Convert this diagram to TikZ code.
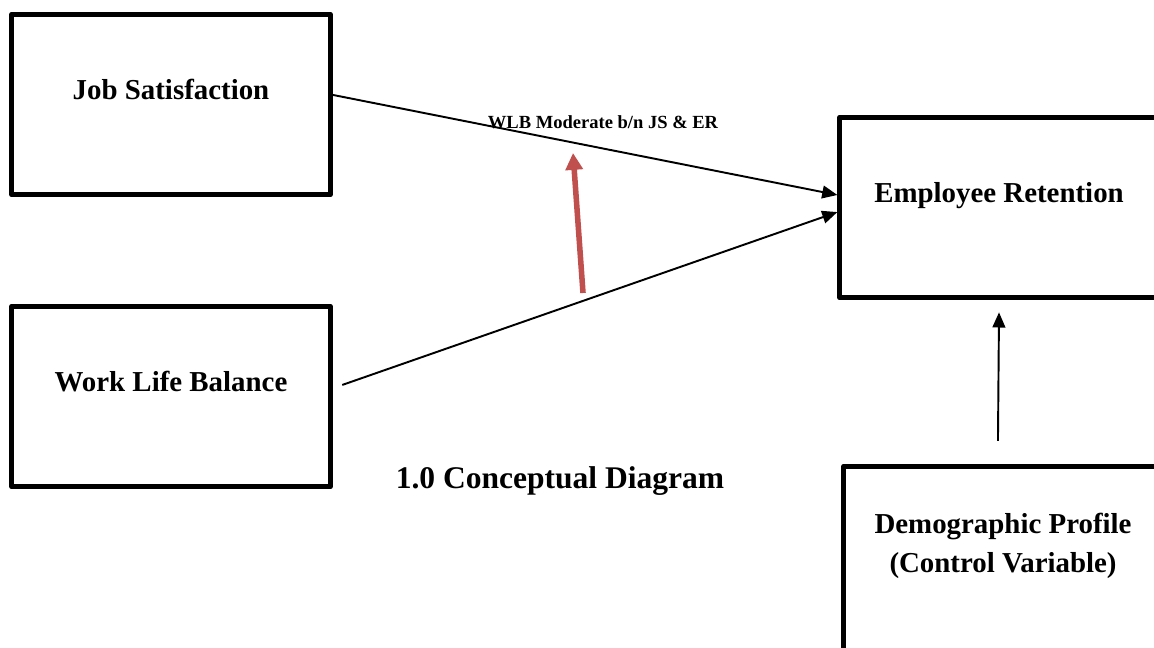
\documentclass[tikz,border=0pt]{standalone}
\usepackage{fontspec}
\setmainfont{Liberation Serif}
\usepackage{tikz}
\usetikzlibrary{arrows.meta,positioning}
\definecolor{modred}{RGB}{192,80,77}
\tikzset{
  varbox/.style={ draw, line width=2pt, line join=round, minimum width=4.65cm, minimum height=2.64cm, align=center, font=\fontsize{12}{16.2}\selectfont\bfseries, text height=8pt, text depth=12pt }
}
\tikzset{
  link/.style={ -{Triangle[length=6.3pt,width=5.3pt]}, line width=0.8pt }
}
\tikzset{
  modarrow/.style={ -{Triangle[length=7pt,width=7pt]}, line width=2.3pt, draw=modred }
}
\tikzset{
  modlabel/.style={ font=\fontsize{7.7}{9}\selectfont\bfseries }
}
\tikzset{
  caption/.style={ font=\fontsize{13.1}{15}\selectfont\bfseries }
}

\begin{document}
\begin{tikzpicture}[y=-0.0146cm, x=0.0146cm]
      \clip (0, 0) rectangle (1154, 647);
      \node[varbox] (js) at (171, 104.5) {Job Satisfaction};
      \node[varbox] (wlb) at (171, 396.5) {Work Life Balance};
      \node[varbox] (er) at (999, 207.5) {Employee Retention};
      \node[varbox, minimum height=3.25cm] (dp) at (1003, 577.5) {Demographic Profile\\(Control Variable)};

      \draw[link] ([yshift=4pt]js.east) -- ([yshift=5.2pt]er.west);
      \draw[link] ([xshift=4pt, yshift=4.8pt]wlb.east) -- ([yshift=-1.9pt]er.west);
      \draw[link] ([xshift=-2.1pt, yshift=9.5pt]dp.north) -- ([yshift=-5pt]er.south);

      \node[modlabel] (modtext) at (603, 122) {WLB Moderate b/n JS \& ER};
      \coordinate (modtail) at (583, 293);
      \coordinate (modtip) at (573, 153);
      \draw[modarrow] (modtail) -- (modtip);

      \node[caption] (title) at (560, 481) {1.0 Conceptual Diagram};
    \end{tikzpicture}
\end{document}
